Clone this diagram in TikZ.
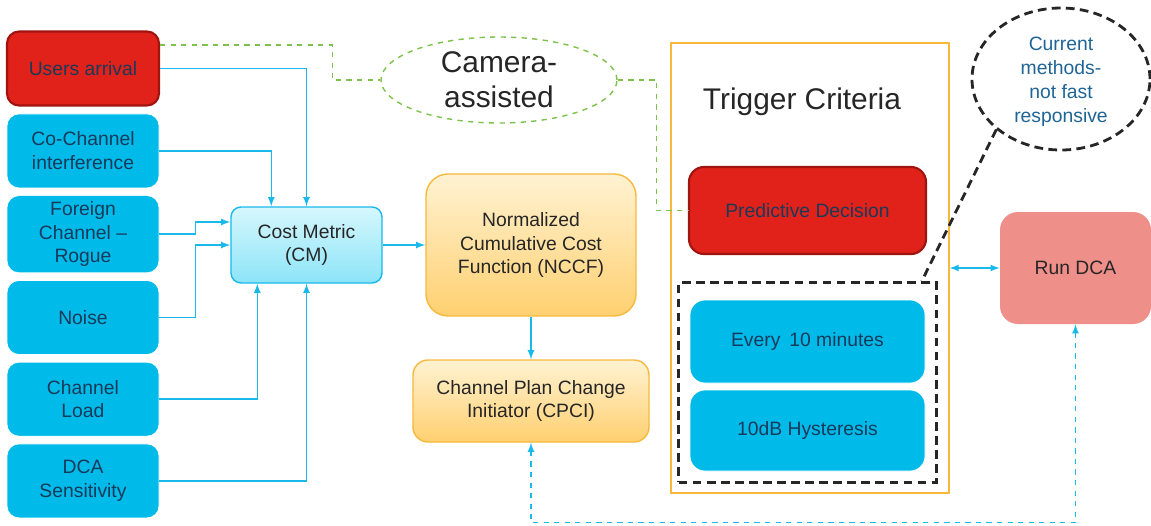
\documentclass[tikz,border=0pt]{standalone}
\usepackage{fontspec}
\setmainfont{Liberation Sans}
\usetikzlibrary{positioning, fit}
\usetikzlibrary{shapes.geometric}

\definecolor{boxblue}{RGB}{0,187,234}
\definecolor{navy}{RGB}{24,58,90}
\definecolor{alarmred}{RGB}{224,34,26}
\definecolor{darkred}{RGB}{160,20,16}
\definecolor{linecyan}{RGB}{26,185,235}
\definecolor{camgreen}{RGB}{125,195,75}
\definecolor{trigorange}{RGB}{247,185,60}
\definecolor{salmon}{RGB}{239,143,137}
\definecolor{darktext}{RGB}{38,38,38}
\definecolor{noteblue}{RGB}{30,100,150}
\definecolor{cmtop}{RGB}{214,247,253}
\definecolor{cmbottom}{RGB}{140,228,248}
\definecolor{nctop}{RGB}{255,242,210}
\definecolor{ncbottom}{RGB}{255,208,112}

\tikzset{
	factor/.style={draw=white, rectangle, rounded corners=0.24cm, fill=boxblue, text=navy, align=center, minimum width=3.04cm, minimum height=1.48cm, font=\fontsize{11}{13.5}\selectfont},
	alarm/.style={factor, draw=darkred, line width=1.2pt, fill=alarmred},
	metric/.style={draw=linecyan, line width=0.8pt, rectangle, rounded corners=0.2cm, top color=cmtop, bottom color=cmbottom, text=darktext, align=center, font=\fontsize{11}{13.5}\selectfont},
	stage/.style={draw=trigorange, line width=0.8pt, rectangle, rounded corners=0.3cm, top color=nctop, bottom color=ncbottom, text=darktext, align=center, font=\fontsize{11}{13.5}\selectfont},
	% big captions
	caption/.style={text=darktext, align=center, inner sep=0pt, font=\fontsize{17}{20}\selectfont},
}

\begin{document}
\begin{tikzpicture}
	\useasboundingbox (0,0) rectangle (23.02,-10.5);
	
	% inputs of the cost metric
	\node (users) [alarm] at (1.66,-1.37) {Users arrival};
	\node (cochan) [factor, below=0.14cm of users] {Co-Channel\\interference};
	\node (foreign) [factor, below=0.14cm of cochan] {Foreign\\Channel --\\Rogue};
	\node (noise) [factor, below=0.14cm of foreign] {Noise};
	\node (load) [factor, below=0.14cm of noise] {Channel\\Load};
	\node (dcasens) [factor, below=0.14cm of load] {DCA\\Sensitivity};
	
	\node (cm) [metric, minimum width=3.02cm, minimum height=1.52cm] at (6.13,-4.9) {Cost Metric\\(CM)};
	\node (nccf) [stage, rounded corners=0.44cm, minimum width=4.2cm, minimum height=2.84cm] at (10.62,-4.9) {Normalized\\Cumulative Cost\\Function (NCCF)};
	\node (cpci) [stage, minimum width=4.72cm, minimum height=1.64cm] at (10.62,-8.02) {Channel Plan Change\\Initiator (CPCI)};
	
	\node (camera) [ellipse, draw=camgreen, dashed, line width=0.8pt, minimum width=4.72cm, minimum height=1.72cm] at (9.98,-1.6) {};
	\node (camtext) [caption] at (camera) {Camera-\\assisted};
	
	% trigger criteria
	\node (trig) [draw=trigorange, line width=0.6pt, minimum width=5.56cm, minimum height=9cm] at (16.2,-5.36) {};
	\node (trigtitle) [caption] at (16.04,-2.04) {Trigger Criteria};
	\node (predict) [alarm, rounded corners=0.3cm, minimum width=4.74cm, minimum height=1.74cm] at (16.15,-4.21) {Predictive Decision};
	\node (every) [factor, rounded corners=0.3cm, minimum width=4.7cm, minimum height=1.66cm] at (16.15,-6.83) {Every\hspace{2pt} 10 minutes};
	\node (hyst) [factor, rounded corners=0.3cm, minimum width=4.7cm, minimum height=1.62cm] at (16.15,-8.61) {10dB Hysteresis};
	\coordinate (evtop) at ([yshift=0.12cm]every.north);
	\node (fastbox) [draw=black!85, line width=1.6pt, dash pattern=on 5pt off 3pt, fit=(every)(hyst)(evtop), inner sep=0.22cm] {};
	
	\node (note) [ellipse, draw=black!85, line width=1.6pt, dash pattern=on 5pt off 3pt, minimum width=3.56cm, minimum height=2.84cm] at (21.22,-1.58) {};
	\node (notetext) [text=noteblue, align=center, inner sep=0pt, font=\fontsize{11}{13.6}\selectfont] at ([yshift=-0.05cm]note.center) {Current\\methods-\\not fast\\responsive};
	
	\node (rundca) [rectangle, rounded corners=0.36cm, fill=salmon, text=darktext, minimum width=3.02cm, minimum height=2.24cm, font=\fontsize{11}{13.5}\selectfont] at (21.51,-5.36) {Run DCA};
	
	\draw[black!85, line width=1.6pt, dash pattern=on 5pt off 3pt] (note.218) -- ([xshift=-0.32cm]fastbox.north east);
	
	\begin{scope}[camgreen, line width=0.8pt, dashed]
		\draw ([yshift=0.47cm]users.east) -| ([xshift=-0.96cm]camera.west) -- (camera.west);
		\draw (camera.east) -- ++(0.78,0) |- (predict.west);
	\end{scope}
	
	\begin{scope}[linecyan, line width=0.8pt, ->, >=latex]
		\draw (users.east) -| (cm.north);
		\draw (cochan.east) -| ([xshift=0.82cm]cm.north west);
		\draw (foreign.east) -- ++(0.72,0) |- ([yshift=0.46cm]cm.west);
		\draw (noise.east) -- ++(0.72,0) |- (cm.west);
		\draw (load.east) -| ([xshift=0.54cm]cm.south west);
		\draw (dcasens.east) -| (cm.south);
		
		\draw (cm.east) -- (nccf.west);
		\draw (nccf.south) -- (cpci.north);
		
		\draw[<->] (trig.east) -- (rundca.west);
		\draw[<->, dashed] (cpci.south) -- ++(0,-1.6) -| (rundca.south);
	\end{scope}
	
\end{tikzpicture}
\end{document}
